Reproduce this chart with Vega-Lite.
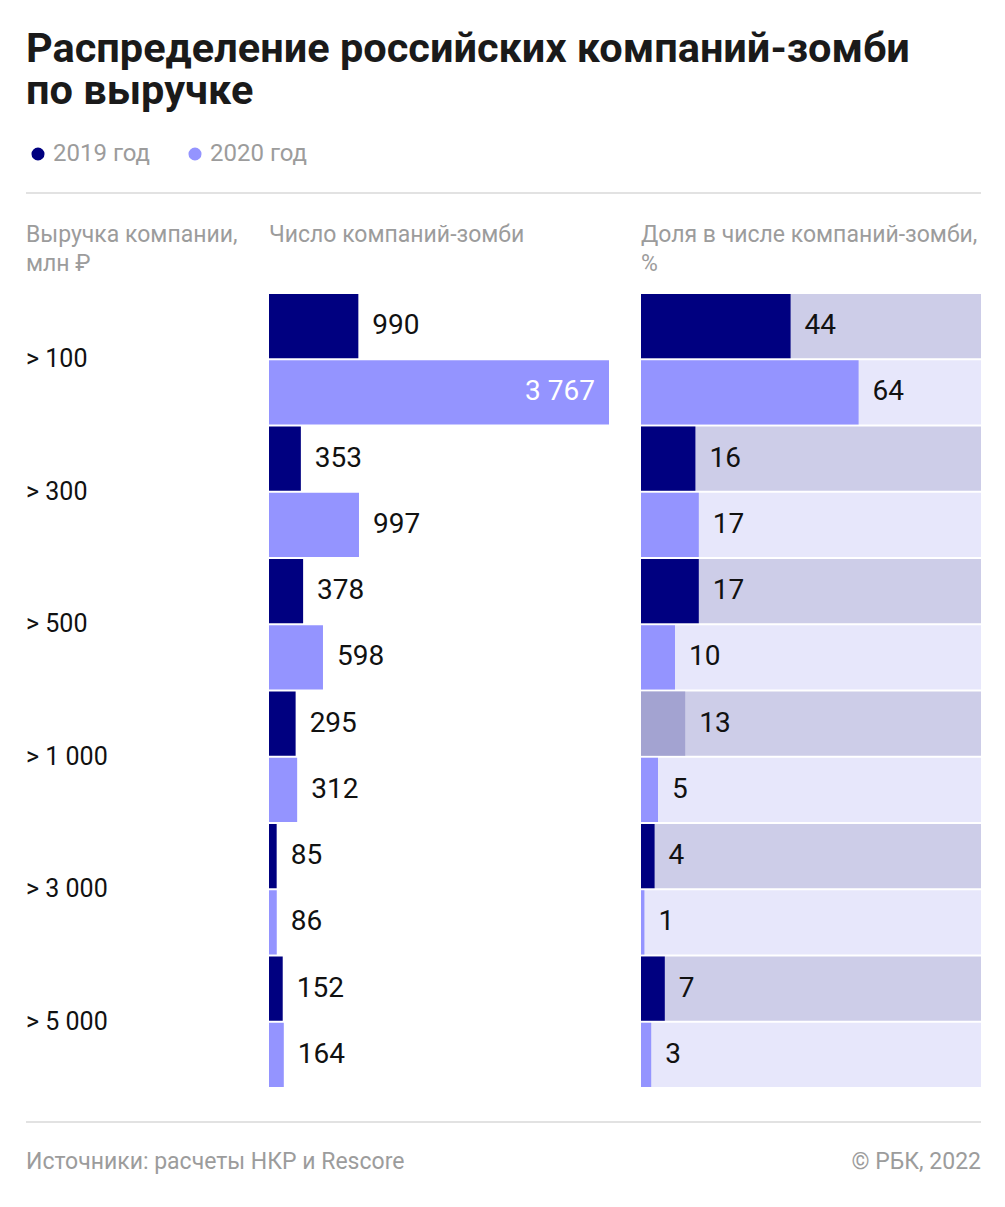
{
  "$schema": "https://vega.github.io/schema/vega-lite/v6.json",
  "background": "white",
  "padding": {"left": 25, "top": 28, "right": 25, "bottom": 0},
  "autosize": {"type": "pad"},
  "config": {
    "font": "Roboto",
    "view": {"stroke": null},
    "locale": {"number": {"decimal": ",", "thousands": " ", "grouping": [3], "currency": ["", " ₽"]}},
    "title": {"anchor": "start", "frame": "group"}
  },
  "title": {
    "text": ["Распределение российских компаний-зомби", "по выручке"],
    "anchor": "start",
    "fontSize": 41.5,
    "fontWeight": "bold",
    "color": "#1a1a1a",
    "lineHeight": 42,
    "offset": 30
  },
  "datasets": {
    "main": [
      {"cat": "> 100", "year": "2019 год", "count": 990, "share": 44},
      {"cat": "> 100", "year": "2020 год", "count": 3767, "share": 64},
      {"cat": "> 300", "year": "2019 год", "count": 353, "share": 16},
      {"cat": "> 300", "year": "2020 год", "count": 997, "share": 17},
      {"cat": "> 500", "year": "2019 год", "count": 378, "share": 17},
      {"cat": "> 500", "year": "2020 год", "count": 598, "share": 10},
      {"cat": "> 1 000", "year": "2019 год", "count": 295, "share": 13},
      {"cat": "> 1 000", "year": "2020 год", "count": 312, "share": 5},
      {"cat": "> 3 000", "year": "2019 год", "count": 85, "share": 4},
      {"cat": "> 3 000", "year": "2020 год", "count": 86, "share": 1},
      {"cat": "> 5 000", "year": "2019 год", "count": 152, "share": 7},
      {"cat": "> 5 000", "year": "2020 год", "count": 164, "share": 3}
    ]
  },
  "bounds": "flush",
  "spacing": 32,
  "hconcat": [
    {
      "width": 211,
      "height": 795,
      "data": {"name": "main"},
      "title": {"text": ["Выручка компании,", "млн ₽"], "fontSize": 23, "fontWeight": "normal", "color": "#9c9c9c", "lineHeight": 29, "baseline": "top", "offset": -84},
      "layer": [
        {
          "transform": [{"filter": "datum.year === '2019 год'"}],
          "mark": {"type": "text", "align": "left", "baseline": "middle", "fontSize": 25, "color": "#111111"},
          "encoding": {
            "y": {"field": "cat", "type": "nominal", "sort": null, "axis": null, "scale": {"paddingInner": 0, "paddingOuter": 0}},
            "x": {"value": 0},
            "text": {"field": "cat"}
          }
        },
        {
          "data": {"values": [{}]},
          "mark": {"type": "rule", "color": "#e2e2e2", "strokeWidth": 2},
          "encoding": {"x": {"value": 0}, "x2": {"value": 955}, "y": {"value": -100}}
        },
        {
          "data": {"values": [{}]},
          "mark": {"type": "rule", "color": "#e2e2e2", "strokeWidth": 2},
          "encoding": {"x": {"value": 0}, "x2": {"value": 955}, "y": {"value": 829}}
        },
        {
          "data": {"values": [{}]},
          "mark": {"type": "text", "text": "Источники: расчеты НКР и Rescore", "align": "left", "baseline": "middle", "fontSize": 23, "color": "#9c9c9c"},
          "encoding": {"x": {"value": 0}, "y": {"value": 869}}
        },
        {
          "data": {"values": [{}]},
          "mark": {"type": "text", "text": "© РБК, 2022", "align": "right", "baseline": "middle", "fontSize": 23, "color": "#9c9c9c"},
          "encoding": {"x": {"value": 955}, "y": {"value": 869}}
        }
      ]
    },
    {
      "width": 340,
      "height": 795,
      "data": {"name": "main"},
      "title": {"text": "Число компаний-зомби", "fontSize": 23, "fontWeight": "normal", "color": "#9c9c9c", "baseline": "top", "offset": 46},
      "encoding": {
        "y": {"field": "cat", "type": "nominal", "sort": null, "axis": null, "scale": {"paddingInner": 0, "paddingOuter": 0}},
        "yOffset": {"field": "year", "type": "nominal", "scale": {"paddingInner": 0.03, "paddingOuter": 0.015}},
        "x": {"field": "count", "type": "quantitative", "axis": null, "scale": {"domain": [0, 3767], "nice": false}}
      },
      "layer": [
        {
          "mark": {"type": "bar"},
          "encoding": {
            "color": {
              "field": "year",
              "type": "nominal",
              "scale": {"domain": ["2019 год", "2020 год"], "range": ["#000080", "#9494ff"]},
              "legend": {
                "orient": "top",
                "direction": "horizontal",
                "title": null,
                "symbolType": "circle",
                "symbolSize": 170,
                "symbolStrokeWidth": 0,
                "labelFontSize": 24,
                "labelColor": "#9c9c9c",
                "labelOffset": 3,
                "columnPadding": 32,
                "offset": 26,
                "padding": 0
              }
            }
          }
        },
        {
          "transform": [{"filter": "datum.count < 3000"}],
          "mark": {"type": "text", "align": "left", "baseline": "middle", "dx": 14, "fontSize": 28, "color": "#111111"},
          "encoding": {"text": {"field": "count", "type": "quantitative", "format": ","}}
        },
        {
          "transform": [{"filter": "datum.count >= 3000"}],
          "mark": {"type": "text", "align": "right", "baseline": "middle", "dx": -14, "fontSize": 28, "color": "#ffffff"},
          "encoding": {"text": {"field": "count", "type": "quantitative", "format": ","}}
        }
      ]
    },
    {
      "width": 340,
      "height": 795,
      "data": {"name": "main"},
      "title": {"text": ["Доля в числе компаний-зомби,", "%"], "fontSize": 23, "fontWeight": "normal", "color": "#9c9c9c", "lineHeight": 29, "baseline": "top", "offset": 17},
      "encoding": {
        "y": {"field": "cat", "type": "nominal", "sort": null, "axis": null, "scale": {"paddingInner": 0, "paddingOuter": 0}},
        "yOffset": {"field": "year", "type": "nominal", "scale": {"paddingInner": 0.03, "paddingOuter": 0.015}}
      },
      "layer": [
        {
          "mark": {"type": "bar"},
          "encoding": {
            "x": {"datum": 100, "type": "quantitative", "axis": null, "scale": {"domain": [0, 100], "nice": false}},
            "color": {"condition": {"test": "datum.year === '2019 год'", "value": "#cdcde8"}, "value": "#e7e7fb"}
          }
        },
        {
          "mark": {"type": "bar"},
          "encoding": {
            "x": {"field": "share", "type": "quantitative"},
            "color": {"condition": {"test": "datum.cat === '> 1 000' && datum.year === '2019 год'", "value": "#a3a3d1"}, "field": "year", "type": "nominal"}
          }
        },
        {
          "mark": {"type": "text", "align": "left", "baseline": "middle", "dx": 14, "fontSize": 28, "color": "#111111"},
          "encoding": {
            "x": {"field": "share", "type": "quantitative"},
            "text": {"field": "share", "type": "quantitative"}
          }
        }
      ]
    }
  ]
}
